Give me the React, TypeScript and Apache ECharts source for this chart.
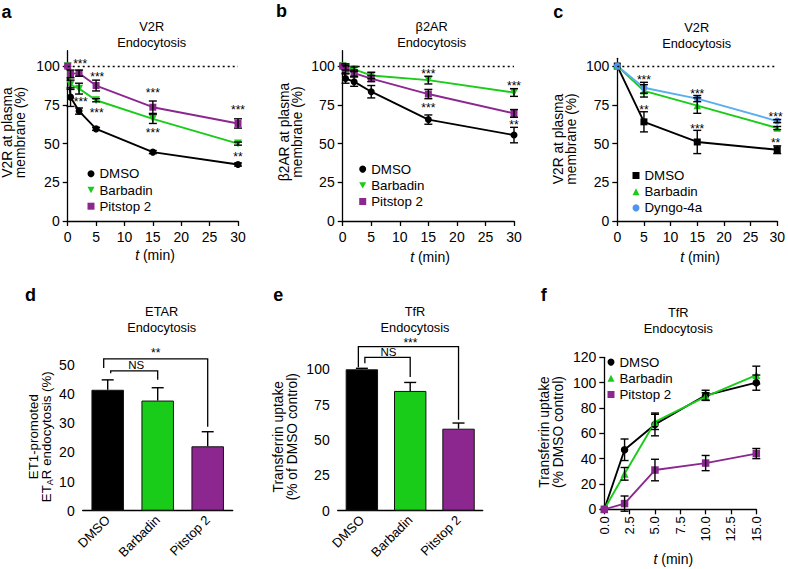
import React, { useEffect, useRef } from 'react';
import * as echarts from 'echarts';

const FONT = 'Liberation Sans, Arial, Helvetica, sans-serif';
const BLACK = '#000000';
const GREEN = '#19cc19';
const PURPLE = '#8c2790';
const BLUE = '#4f95ef';
const DOWN_TRI = 'path://M0,0L10,0L5,9Z';

// ---- Panel a: V2R endocytosis ----
const aTimes = [0, 0.5, 2, 5, 15, 30];
const aDMSO = [100, 80, 71, 59.5, 44.5, 36.5];
const aDMSOErr = [0, 6, 2, 1, 1, 1];
const aBarbadin = [100, 88, 85.5, 78, 66, 50];
const aBarbadinErr = [0, 3, 3.5, 1, 3, 1];
const aPitstop = [100, 95, 95.5, 87.5, 73.5, 63];
const aPitstopErr = [0, 2.5, 2, 3.5, 4, 3];

// ---- Panel b: β2AR endocytosis ----
const bTimes = [0, 0.5, 2, 5, 15, 30];
const bDMSO = [100, 92, 90, 83.5, 65.5, 55.5];
const bDMSOErr = [0, 3, 3, 4, 3, 5];
const bBarbadin = [100, 99, 98, 94, 91, 83];
const bBarbadinErr = [0, 1.5, 1.5, 2, 2.5, 2.5];
const bPitstop = [100, 98.5, 95.5, 92, 82, 69.5];
const bPitstopErr = [0, 3, 2, 2, 3, 2.5];

// ---- Panel c: V2R endocytosis ----
const cTimes = [0, 5, 15, 30];
const cDMSO = [100, 64, 51, 46];
const cDMSOErr = [0, 6.5, 7.5, 2.5];
const cBarbadin = [100, 84, 74.5, 60];
const cBarbadinErr = [0, 4, 5, 1];
const cDyngo = [100, 86, 79, 64.5];
const cDyngoErr = [0, 3.5, 2, 1];

// ---- Panels d, e: bars ----
const barCategories = ['DMSO', 'Barbadin', 'Pitstop 2'];
const barColors = [BLACK, GREEN, PURPLE];
const dValues = [41.5, 37.8, 22.1];
const dErr = [3.4, 4.4, 5];
const eValues = [100, 84.7, 58];
const eErr = [0.7, 6, 4];

// ---- Panel f: TfR uptake ----
const fTimes = [0, 2, 5, 10, 15];
const fDMSO = [0, 47, 67, 90, 100];
const fDMSOErr = [0, 8.5, 9, 4, 6];
const fBarbadin = [0, 28, 69, 89, 106];
const fBarbadinErr = [0, 5, 6, 3, 7];
const fPitstop = [0, 4.5, 31, 36.5, 44];
const fPitstopErr = [0, 6, 8.5, 6, 4];

// tick labels
const pctTicks = [0, 25, 50, 75, 100];

// significance stars [t, value, text]
const aStars: [number, number, string][] = [
  [2.2, 103, '***'], [5.2, 94.7, '***'], [15, 84.4, '***'], [30, 73.2, '***'],
  [2.3, 78.4, '***'], [5.1, 71.5, '***'], [15, 58.2, '***'], [30, 42.9, '**'],
];
const bStars: [number, number, string][] = [
  [15, 96.8, '***'], [15, 74.7, '***'], [30, 88.7, '***'], [30, 63.5, '**'],
];
const cStars: [number, number, string][] = [
  [5, 92.5, '***'], [5, 73.6, '**'], [15, 83.7, '***'], [15, 61.2, '***'],
  [29.7, 68.9, '***'], [29.7, 52.2, '**'],
];

const axisCommon = {
  axisLine: { lineStyle: { color: '#000', width: 1.3 } },
  axisTick: { length: 5, lineStyle: { color: '#000', width: 1.3 } },
  axisLabel: { color: '#000', fontSize: 14, fontFamily: FONT },
  splitLine: { show: false },
};

function pairs(times: number[], vals: number[]) {
  return times.map((t, i) => [t, vals[i]]);
}
function triples(times: number[], vals: number[], errs: number[]) {
  return times.map((t, i) => [t, vals[i], errs[i]]);
}

function errRender(capHalf: number, upOnly: boolean) {
  return (params: any, api: any) => {
    const x = api.value(0);
    const y = api.value(1);
    const e = api.value(2);
    if (!e) return null;
    const top = api.coord([x, y + e]);
    const bot = api.coord([x, upOnly ? y : y - e]);
    const color = api.visual('color');
    const st = { stroke: color, lineWidth: 1.4 };
    const children: any[] = [
      { type: 'line', shape: { x1: top[0], y1: top[1], x2: bot[0], y2: bot[1] }, style: st },
      { type: 'line', shape: { x1: top[0] - capHalf, y1: top[1], x2: top[0] + capHalf, y2: top[1] }, style: st },
    ];
    if (!upOnly) {
      children.push({ type: 'line', shape: { x1: bot[0] - capHalf, y1: bot[1], x2: bot[0] + capHalf, y2: bot[1] }, style: st });
    }
    return { type: 'group', children };
  };
}

function lineS(name: string, idx: number, times: number[], vals: number[], color: string, symbol: string, size: number, rotate = 0, extra: any = {}) {
  return {
    type: 'line', name, xAxisIndex: idx, yAxisIndex: idx,
    data: pairs(times, vals),
    symbol, symbolSize: size, symbolRotate: rotate,
    lineStyle: { color, width: 1.9 },
    itemStyle: { color },
    z: 3,
    ...extra,
  };
}
function errS(idx: number, times: number[], vals: number[], errs: number[], color: string) {
  return {
    type: 'custom', name: 'err' + idx + color, xAxisIndex: idx, yAxisIndex: idx,
    data: triples(times, vals, errs),
    renderItem: errRender(4, false),
    itemStyle: { color },
    encode: { x: 0, y: 1 },
    z: 4, silent: true,
  };
}
function dotted100(max: number) {
  return {
    silent: true, symbol: ['none', 'none'], label: { show: false },
    lineStyle: { color: '#000', type: [2, 3], width: 1.3 },
    data: [[{ coord: [0, 100] }, { coord: [max, 100] }]],
  };
}

function legendAt(left: number, top: number, items: any[]) {
  return {
    left, top, orient: 'vertical', itemWidth: 7, itemHeight: 7, itemGap: 3.2,
    textStyle: { fontSize: 13.3, color: '#000', fontFamily: FONT },
    selectedMode: false,
    data: items,
  };
}

function txt(x: number, y: number, text: string, size: number, extra: any = {}, elExtra: any = {}) {
  return {
    type: 'text', x, y, silent: true,
    style: { text, fill: '#000', fontSize: size, fontFamily: FONT, align: 'center', verticalAlign: 'middle', ...extra },
    ...elExtra,
  };
}

export default function App() {
  const ref = useRef<HTMLDivElement>(null);
  useEffect(() => {
    const chart = echarts.init(ref.current!, null, { renderer: 'svg' });
    const pctY = (max: number) => ({
      type: 'value', min: 0, max,
      ...axisCommon,
      axisTick: { ...axisCommon.axisTick, customValues: pctTicks },
      axisLabel: { ...axisCommon.axisLabel, customValues: pctTicks, margin: 8 },
    });
    const timeX = (max: number, interval: number) => ({
      type: 'value', min: 0, max, interval,
      ...axisCommon,
      axisLabel: { ...axisCommon.axisLabel, margin: 9 },
    });
    const catX = {
      type: 'category', data: barCategories,
      axisLine: { lineStyle: { color: '#000', width: 1.3 } },
      axisTick: { show: false },
      axisLabel: { color: '#000', fontSize: 13, fontFamily: FONT, rotate: 45, interval: 0, margin: 7 },
    };

    const option: any = {
      animation: false,
      textStyle: { fontFamily: FONT },
      grid: [
        { left: 67.7, top: 50.7, width: 170.3, height: 170.3 },
        { left: 342.7, top: 50.7, width: 171.3, height: 170.3 },
        { left: 617.3, top: 58.3, width: 163, height: 162.7 },
        { left: 82.7, top: 365, width: 150, height: 145.7 },
        { left: 337.7, top: 369.3, width: 145, height: 141.4 },
        { left: 604.3, top: 357.3, width: 152, height: 152 },
      ],
      xAxis: [
        { gridIndex: 0, ...timeX(30, 5) },
        { gridIndex: 1, ...timeX(30, 5) },
        { gridIndex: 2, ...timeX(30, 5) },
        { gridIndex: 3, ...catX },
        { gridIndex: 4, ...catX },
        {
          gridIndex: 5, ...timeX(15, 2.5),
          axisLabel: { ...axisCommon.axisLabel, fontSize: 13, rotate: 90, margin: 7, formatter: (v: number) => v.toFixed(1) },
        },
      ],
      yAxis: [
        { gridIndex: 0, ...pctY(110) },
        { gridIndex: 1, ...pctY(110) },
        { gridIndex: 2, ...pctY(105) },
        { gridIndex: 3, type: 'value', min: 0, max: 50, interval: 10, ...axisCommon, axisLabel: { ...axisCommon.axisLabel, margin: 8 } },
        { gridIndex: 4, type: 'value', min: 0, max: 100, interval: 25, ...axisCommon, axisLabel: { ...axisCommon.axisLabel, margin: 8 } },
        { gridIndex: 5, type: 'value', min: 0, max: 120, interval: 20, ...axisCommon, axisLabel: { ...axisCommon.axisLabel, margin: 8 } },
      ],
      legend: [
        legendAt(82.5, 162.3, [{ name: 'DMSO', icon: 'circle' }, { name: 'Barbadin', icon: DOWN_TRI }, { name: 'Pitstop 2', icon: 'rect' }]),
        legendAt(354.2, 157.6, [{ name: 'DMSO', icon: 'circle' }, { name: 'Barbadin', icon: DOWN_TRI }, { name: 'Pitstop 2', icon: 'rect' }]),
        legendAt(627.5, 164, [{ name: 'DMSO', icon: 'rect' }, { name: 'Barbadin', icon: 'triangle' }, { name: 'Dyngo-4a', icon: 'circle' }]),
        legendAt(602.5, 350.6, [{ name: 'DMSO', icon: 'circle' }, { name: 'Barbadin', icon: 'triangle' }, { name: 'Pitstop 2', icon: 'rect' }]),
      ],
      series: [
        // a
        lineS('DMSO', 0, aTimes, aDMSO, BLACK, 'circle', 7, 0, { markLine: dotted100(30) }),
        lineS('Barbadin', 0, aTimes, aBarbadin, GREEN, 'triangle', 8, 180),
        lineS('Pitstop 2', 0, aTimes, aPitstop, PURPLE, 'rect', 7),
        errS(0, aTimes, aDMSO, aDMSOErr, BLACK),
        errS(0, aTimes, aBarbadin, aBarbadinErr, BLACK),
        errS(0, aTimes, aPitstop, aPitstopErr, BLACK),
        // b
        lineS('DMSO', 1, bTimes, bDMSO, BLACK, 'circle', 7, 0, { markLine: dotted100(30) }),
        lineS('Barbadin', 1, bTimes, bBarbadin, GREEN, 'triangle', 8, 180),
        lineS('Pitstop 2', 1, bTimes, bPitstop, PURPLE, 'rect', 7),
        errS(1, bTimes, bDMSO, bDMSOErr, BLACK),
        errS(1, bTimes, bBarbadin, bBarbadinErr, BLACK),
        errS(1, bTimes, bPitstop, bPitstopErr, BLACK),
        // c
        lineS('DMSO', 2, cTimes, cDMSO, BLACK, 'rect', 7, 0, { markLine: dotted100(30) }),
        lineS('Barbadin', 2, cTimes, cBarbadin, GREEN, 'triangle', 7.5),
        lineS('Dyngo-4a', 2, cTimes, cDyngo, BLUE, 'circle', 7, 0, { lineStyle: { color: '#5aaef0', width: 1.9 } }),
        errS(2, cTimes, cDMSO, cDMSOErr, BLACK),
        errS(2, cTimes, cBarbadin, cBarbadinErr, BLACK),
        errS(2, cTimes, cDyngo, cDyngoErr, BLACK),
        // d
        {
          type: 'bar', xAxisIndex: 3, yAxisIndex: 3, barWidth: '65%',
          data: dValues.map((v, i) => ({ value: v, itemStyle: { color: barColors[i] } })),
          itemStyle: { borderColor: '#111', borderWidth: 1 }, z: 2,
        },
        {
          type: 'custom', xAxisIndex: 3, yAxisIndex: 3, encode: { x: 0, y: 1 },
          data: dValues.map((v, i) => [i, v, dErr[i]]),
          renderItem: errRender(6, true), itemStyle: { color: BLACK }, z: 4, silent: true,
        },
        // e
        {
          type: 'bar', xAxisIndex: 4, yAxisIndex: 4, barWidth: '67%',
          data: eValues.map((v, i) => ({ value: v, itemStyle: { color: barColors[i] } })),
          itemStyle: { borderColor: '#111', borderWidth: 1 }, z: 2,
        },
        {
          type: 'custom', xAxisIndex: 4, yAxisIndex: 4, encode: { x: 0, y: 1 },
          data: eValues.map((v, i) => [i, v, eErr[i]]),
          renderItem: errRender(6, true), itemStyle: { color: BLACK }, z: 4, silent: true,
        },
        // f
        lineS('DMSO', 5, fTimes, fDMSO, BLACK, 'circle', 7.5),
        lineS('Barbadin', 5, fTimes, fBarbadin, GREEN, 'triangle', 8),
        lineS('Pitstop 2', 5, fTimes, fPitstop, PURPLE, 'rect', 7.5),
        errS(5, fTimes, fDMSO, fDMSOErr, BLACK),
        errS(5, fTimes, fBarbadin, fBarbadinErr, BLACK),
        errS(5, fTimes, fPitstop, fPitstopErr, BLACK),
      ],
    };
    chart.setOption(option);

    const g: any[] = [];
    // panel letters
    const letters: [string, number, number][] = [
      ['a', 1.5, 12], ['b', 276, 11], ['c', 553.3, 12], ['d', 25, 295], ['e', 273.3, 295], ['f', 540.7, 295],
    ];
    letters.forEach(([l, x, y]) => g.push(txt(x, y, l, 18, { fontWeight: 'bold', align: 'left' })));
    // titles
    const titles: [string, number, number][] = [
      ['V2R', 151.7, 26], ['β2AR', 431.7, 26], ['V2R', 696.7, 27.3],
      ['ETAR', 161.7, 311.7], ['TfR', 415, 311.7], ['TfR', 678.3, 312.3],
    ];
    titles.forEach(([t, x, y]) => {
      g.push(txt(x, y, t, 12.8));
      g.push(txt(x, y + 16, 'Endocytosis', 12.8));
    });
    // y-axis names (rotated)
    const rot = { rotation: Math.PI / 2 };
    g.push(txt(13.7, 132.5, 'V2R at plasma\nmembrane (%)', 13.8, { lineHeight: 13 }, rot));
    g.push(txt(291.2, 132, 'β2AR at plasma\nmembrane (%)', 13.8, { lineHeight: 13 }, rot));
    g.push(txt(564.5, 139, 'V2R at plasma\nmembrane (%)', 13.8, { lineHeight: 13 }, rot));
    g.push(txt(40, 436.7, 'ET1-promoted\nET{s|A}R endocytosis (%)', 13.3, {
      lineHeight: 13.5,
      rich: { s: { fontSize: 9, fontFamily: FONT, fill: '#000', padding: [6, 0, 0, 0] } },
    }, rot));
    g.push(txt(285.3, 436.7, 'Transferrin uptake\n(% of DMSO control)', 13.8, { lineHeight: 14 }, rot));
    g.push(txt(551.7, 432, 'Transferrin uptake\n(% DMSO control)', 13.8, { lineHeight: 13.5 }, rot));
    // x-axis names
    const tmin: [number, number][] = [[155, 255], [430, 256.7], [700, 256.7], [673.3, 559]];
    tmin.forEach(([x, y]) => g.push(txt(x, y, '{i|t} (min)', 14, {
      rich: { i: { fontStyle: 'italic', fontSize: 14, fontFamily: FONT, fill: '#000' } },
    })));

    // significance stars
    const star = (grid: number, t: number, v: number, s: string) => {
      const p = chart.convertToPixel({ gridIndex: grid }, [t, v]) as number[];
      g.push(txt(p[0], p[1] + 2.6, s, 12));
    };
    aStars.forEach(([t, v, s]) => star(0, t, v, s));
    bStars.forEach(([t, v, s]) => star(1, t, v, s));
    cStars.forEach(([t, v, s]) => star(2, t, v, s));

    // brackets for bar panels
    const lineSt = { stroke: '#000', lineWidth: 1.3, fill: 'none' };
    const bracket = (grid: number, c1: number, dx1: number, c2: number, dx2: number, yTop: number, yL: number, yR: number) => {
      const p1 = chart.convertToPixel({ gridIndex: grid }, [c1, yTop]) as number[];
      const p2 = chart.convertToPixel({ gridIndex: grid }, [c2, yTop]) as number[];
      const l = chart.convertToPixel({ gridIndex: grid }, [c1, yL]) as number[];
      const r = chart.convertToPixel({ gridIndex: grid }, [c2, yR]) as number[];
      const x1 = p1[0] + dx1, x2 = p2[0] + dx2;
      g.push({ type: 'polyline', silent: true, shape: { points: [[x1, l[1]], [x1, p1[1]], [x2, p1[1]], [x2, r[1]]] }, style: lineSt });
      return [(x1 + x2) / 2, p1[1]];
    };
    let m = bracket(3, 0, -4, 2, 0, 52.1, 49, 28.8);
    g.push(txt(m[0], m[1] - 8 + 2.6, '**', 12));
    m = bracket(3, 0, 3, 1, 0, 48, 47.2, 44.9);
    g.push(txt(m[0] + 2, m[1] - 5.5, 'NS', 11.5));
    m = bracket(4, 0, -3.5, 2, 0, 116, 101.5, 64.3);
    g.push(txt(m[0] + 2, m[1] - 6 + 2.6, '***', 12));
    m = bracket(4, 0, 3, 1, 0, 108.5, 104.3, 94.5);
    g.push(txt(m[0] + 1, m[1] - 5.5, 'NS', 11.5));

    chart.setOption({ graphic: g });
    return () => chart.dispose();
  }, []);
  return <div ref={ref} style={{ position: 'absolute', left: 0, top: 0, width: 788, height: 569, background: '#fff' }} />;
}
